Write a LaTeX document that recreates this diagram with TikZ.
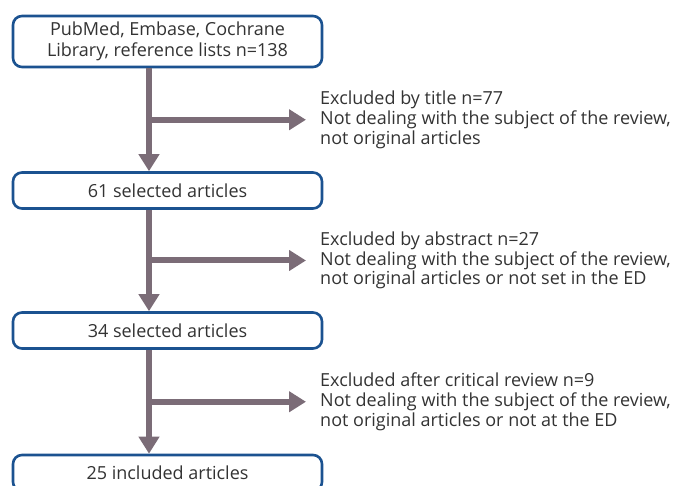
\documentclass[tikz,border=0pt]{standalone}
\usepackage{fontspec}
\setmainfont{Open Sans}
\usepackage{tikz}
\usetikzlibrary{positioning,arrows.meta,calc}
\definecolor{boxblue}{HTML}{1B5290}
\definecolor{mauve}{HTML}{7B6C77}
\definecolor{inkgrey}{HTML}{333333}

\begin{document}
\begin{tikzpicture}[x=1pt,y=-1pt,
    stage/.style={draw=boxblue, line width=2.6pt, rounded corners=9pt, fill=white,
        minimum width=309pt, inner sep=0pt, align=center, text=inkgrey,
        font=\fontsize{18}{21}\selectfont},
    flow/.style={mauve, line width=6pt, -{Triangle[width=20pt,length=17pt]}},
    note/.style={inner sep=0pt, align=left, text=inkgrey,
        font=\fontsize{18}{19.8}\selectfont}]
\clip (0,0) rectangle (680,486);

% Stages of the selection
\node[stage, minimum height=51pt] (search) at (167.5,41.5) {PubMed, Embase, Cochrane\\Library, reference lists n=138};
\node[stage, minimum height=36pt] (title) at (167.5,190.5) {61 selected articles};
\node[stage, minimum height=36pt] (abstract) at (167.5,330.5) {34 selected articles};
\node[stage, minimum height=36pt] (final) at (167.5,473) {25 included articles};

% Main flow line sits left of the box centres
\coordinate (axis) at (149,0);
\draw[flow] (search.south -| axis) -- (title.north -| axis);
\draw[flow] (title.south -| axis) -- (abstract.north -| axis);
\draw[flow] (abstract.south -| axis) -- (final.north -| axis);

% Branch points halfway
\coordinate (b1) at ($(search.south -| axis)!0.5!(title.north -| axis)$);
\coordinate (b2) at ($(title.south -| axis)!0.5!(abstract.north -| axis)$);
\coordinate (b3) at ($(abstract.south -| axis)!0.5!(final.north -| axis)$);

% Exclusions
\node[note, right=171pt of b1] (ex1) {Excluded by title n=77\\Not dealing with the subject of the review,\\not original articles};
\node[note, right=171pt of b2] (ex2) {Excluded by abstract n=27\\Not dealing with the subject of the review,\\not original articles or not set in the ED};
\node[note, right=171pt of b3] (ex3) {Excluded after critical review n=9\\Not dealing with the subject of the review,\\not original articles or not at the ED};

\draw[flow] (b1) -- ([xshift=-14pt]ex1.west);
\draw[flow] (b2) -- ([xshift=-14pt]ex2.west);
\draw[flow] (b3) -- ([xshift=-14pt]ex3.west);

\end{tikzpicture}
\end{document}
